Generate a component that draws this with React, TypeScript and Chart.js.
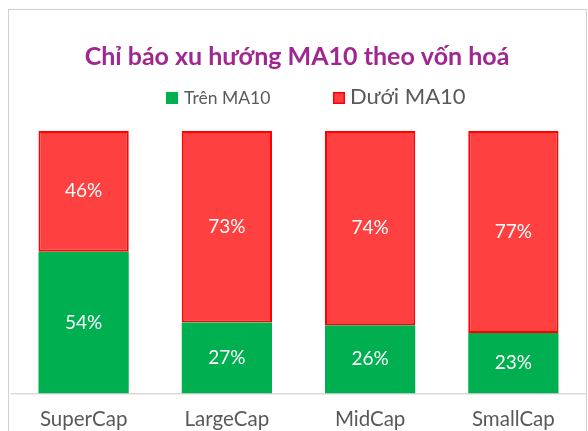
import React, { useEffect, useRef } from "react";
import { Chart, registerables } from "chart.js";

Chart.register(...registerables);

const categories = ["SuperCap", "LargeCap", "MidCap", "SmallCap"];
const tren = [54, 27, 26, 23];
const duoi = [46, 73, 74, 77];
const titleText = "Chỉ báo xu hướng MA10 theo vốn hoá";
const legend1 = "Trên MA10";
const legend2 = "Dưới MA10";

const FONT = "Lato, 'Open Sans', sans-serif";
const GREEN = "#00B050";
const RED_FILL = "#FF4040";
const RED_BORDER = "#FF0000";
const TEXT_GRAY = "#595959";

const decorPlugin = {
  id: "decor",
  beforeDraw(chart: any) {
    const ctx = chart.ctx;
    ctx.save();
    ctx.fillStyle = "#ffffff";
    ctx.fillRect(0, 0, chart.width, chart.height);
    ctx.strokeStyle = "#D0D0D0";
    ctx.lineWidth = 1;
    ctx.strokeRect(8.5, 9.5, 578, 440);
    // title
    ctx.fillStyle = "#A0278F";
    ctx.font = `bold 25px ${FONT}`;
    ctx.textAlign = "center";
    ctx.textBaseline = "middle";
    ctx.fillText(titleText, 297, 57);
    // legend
    ctx.textAlign = "left";
    ctx.fillStyle = GREEN;
    ctx.fillRect(166, 92, 12, 12);
    ctx.fillStyle = TEXT_GRAY;
    ctx.font = `17.5px ${FONT}`;
    ctx.fillText(legend1, 184, 98);
    ctx.fillStyle = RED_FILL;
    ctx.fillRect(333, 92, 12, 12);
    ctx.strokeStyle = RED_BORDER;
    ctx.lineWidth = 1.5;
    ctx.strokeRect(333.75, 92.75, 10.5, 10.5);
    ctx.fillStyle = TEXT_GRAY;
    ctx.font = `22px ${FONT}`;
    ctx.fillText(legend2, 350, 97);
    ctx.restore();
  },
  afterDatasetsDraw(chart: any) {
    const ctx = chart.ctx;
    ctx.save();
    ctx.fillStyle = "#ffffff";
    ctx.font = `19px ${FONT}`;
    ctx.textAlign = "center";
    ctx.textBaseline = "middle";
    chart.data.datasets.forEach((ds: any, i: number) => {
      const meta = chart.getDatasetMeta(i);
      meta.data.forEach((bar: any, j: number) => {
        const y = (bar.y + bar.base) / 2;
        ctx.fillText(ds.data[j] + "%", bar.x, y);
      });
    });
    ctx.restore();
  },
};

export default function App() {
  const ref = useRef<HTMLCanvasElement>(null);
  useEffect(() => {
    document.body.style.margin = "0";
    const chart = new Chart(ref.current!, {
      type: "bar",
      data: {
        labels: categories,
        datasets: [
          {
            label: legend1,
            data: tren,
            backgroundColor: GREEN,
            borderWidth: 0,
            barPercentage: 0.63,
            categoryPercentage: 1,
          },
          {
            label: legend2,
            data: duoi,
            backgroundColor: RED_FILL,
            borderColor: RED_BORDER,
            borderWidth: 2,
            borderSkipped: false,
            barPercentage: 0.63,
            categoryPercentage: 1,
          },
        ],
      },
      options: {
        responsive: false,
        animation: false,
        layout: { padding: { top: 131, left: 12, right: 3, bottom: -15 } },
        plugins: {
          legend: { display: false },
          title: { display: false },
          tooltip: { enabled: false },
        },
        scales: {
          x: {
            stacked: true,
            grid: { display: false, drawTicks: false },
            border: { display: true, color: "#D9D9D9", width: 1.5 },
            ticks: {
              color: TEXT_GRAY,
              font: { family: FONT, size: 20.5 },
              padding: 14,
            },
          },
          y: {
            stacked: true,
            display: false,
            min: 0,
            max: 100,
          },
        },
      },
      plugins: [decorPlugin],
    });
    return () => chart.destroy();
  }, []);
  return (
    <div style={{ width: 588, height: 431 }}>
      <canvas ref={ref} width={588} height={431} />
    </div>
  );
}
